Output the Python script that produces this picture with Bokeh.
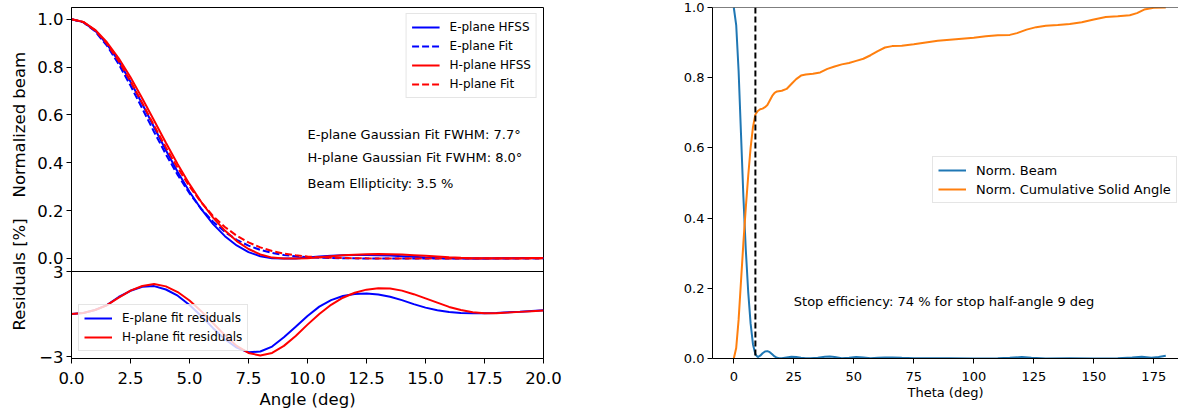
from bokeh.plotting import figure
from bokeh.models import (Range1d, FixedTicker, Span, Label, Legend, LegendItem,
                          NumeralTickFormatter)
from bokeh.layouts import row
from bokeh.embed import file_html
from bokeh.resources import INLINE
import math

# ---------------- data: left panel ----------------
angle = [0.0, 0.5, 1.0, 1.5, 2.0, 2.5, 3.0, 3.5, 4.0, 4.5, 5.0, 5.5, 6.0, 6.5, 7.0, 7.5,
         8.0, 8.5, 9.0, 9.5, 10.0, 10.5, 11.0, 11.5, 12.0, 12.5, 13.0, 13.5, 14.0, 14.5,
         15.0, 15.5, 16.0, 16.5, 17.0, 17.5, 18.0, 18.5, 19.0, 19.5, 20.0]
e_hfss = [1.0, .9878, .9521, .8959, .8242, .7389, .6455, .5486, .4525, .3618, .2788, .2060,
          .1438, .0933, .0545, .0267, .0094, .0010, .0005, .0005, .0041, .0084, .0117, .0137,
          .0147, .0148, .0140, .0123, .0098, .0070, .0045, .0026, .0014, .0007, .0005, .0005,
          .0007, .0012, .0016, .0021, .0026]
e_fit = [1.0, .9871, .9493, .8896, .8122, .7225, .6263, .5289, .4352, .3489, .2725, .2074,
         .1538, .1111, .0782, .0537, .0359, .0234, .0148, .0092, .0055, .0032, .0019, .0010,
         .0006, .0003, .0002, .0001, 0.0, 0.0, 0.0, 0.0, 0.0, 0.0, 0.0, 0.0,
         0.0, 0.0, 0.0, 0.0, 0.0]
h_hfss = [1.0, .9888, .9559, .9038, .8368, .7573, .6690, .5766, .4834, .3938, .3107, .2361,
          .1711, .1166, .0727, .0397, .0170, .0037, .0005, .0005, .0007, .0050, .0095, .0133,
          .0160, .0178, .0185, .0182, .0166, .0140, .0110, .0080, .0050, .0028, .0012, .0006,
          .0006, .0010, .0015, .0020, .0025]
h_fit = [1.0, .9881, .9531, .8976, .8253, .7408, .6492, .5554, .4639, .3783, .3012, .2341,
         .1776, .1316, .0952, .0672, .0463, .0312, .0205, .0131, .0082, .0050, .0030, .0018,
         .0010, .0006, .0003, .0002, .0001, 0.0, 0.0, 0.0, 0.0, 0.0, 0.0, 0.0,
         0.0, 0.0, 0.0, 0.0, 0.0]
e_res = [0.0, .07, .28, .63, 1.2, 1.64, 1.92, 1.97, 1.73, 1.29, .63, -.14, -1.0, -1.78, -2.37,
         -2.70, -2.65, -2.30, -1.64, -.90, -.14, .52, .98, 1.27, 1.41, 1.45, 1.38, 1.22, .98,
         .70, .45, .26, .14, .07, .05, .05, .07, .12, .16, .21, .26]
h_res = [0.0, .07, .28, .62, 1.15, 1.65, 1.98, 2.12, 1.95, 1.55, .95, .20, -.65, -1.5, -2.25,
         -2.75, -2.93, -2.75, -2.25, -1.55, -.75, 0.0, .65, 1.15, 1.5, 1.72, 1.82, 1.8, 1.65,
         1.4, 1.1, .8, .5, .28, .12, .06, .06, .1, .15, .2, .25]

beam_ticks = [0.0, 0.2, 0.4, 0.6, 0.8, 1.0]
beam_tick_labels = ["0.0", "0.2", "0.4", "0.6", "0.8", "1.0"]
res_ticks = [-3.0, 3.0]
res_tick_labels = ["\u22123", "3"]
angle_ticks = [0.0, 2.5, 5.0, 7.5, 10.0, 12.5, 15.0, 17.5, 20.0]

beam_labels = ["E-plane HFSS", "E-plane Fit", "H-plane HFSS", "H-plane Fit"]
res_labels = ["E-plane fit residuals", "H-plane fit residuals"]
info_texts = ["E-plane Gaussian Fit FWHM: 7.7\u00b0", "H-plane Gaussian Fit FWHM: 8.0\u00b0",
              "Beam Ellipticity: 3.5 %"]
info_y = [0.518, 0.423, 0.315]
ylabel_top = "Normalized beam"
ylabel_bottom = "Residuals [%]"

# ---------------- data: right panel ----------------
theta_beam = [0, 1, 2, 3, 4, 5, 6, 7, 8, 9, 10, 11, 12, 13, 14, 15, 16, 17, 18, 19, 20,
              22, 24, 26, 28, 30, 32, 35, 38, 40, 42, 45, 48, 51, 54, 57, 60, 63, 66,
              70, 75, 80, 90, 100, 110, 115, 120, 124, 130, 140, 150, 160, 166, 170, 174, 177, 180]
norm_beam = [1.0, .95, .82, .64, .46, .31, .19, .10, .04, .012, .004, .008, .015, .020, .021,
             .018, .012, .006, .002, .001, .001,
             .003, .005, .004, .002, .001, .001, .002, .005, .006, .004, .001, .002,
             .004, .003, .001, .002, .003, .003, .002, .001, .001, .001, 0.0, .001,
             .002, .004, .002, 0.0, .001, 0.0, .001, .003, .005, .002, .004, .008]
theta_cum = [0, 1, 2, 3, 4, 5, 6, 7, 8, 9, 10, 11, 12, 13, 14, 15, 16, 17, 18,
             20, 22, 24, 26, 28, 30, 33, 36, 39, 42, 45, 48, 51, 54, 57, 60, 63, 66,
             70, 75, 80, 85, 90, 95, 100, 105, 110, 115, 118, 122, 126, 130, 135, 140,
             145, 150, 155, 160, 165, 168, 171, 175, 180]
norm_cum = [0.0, .03, .11, .22, .33, .43, .52, .60, .66, .695, .705, .71, .712, .716, .722,
            .735, .748, .757, .761,
            .763, .768, .782, .796, .806, .809, .811, .815, .825, .832, .838, .842,
            .848, .854, .864, .876, .886, .89, .891, .895, .9, .905, .908, .911,
            .914, .918, .921, .922, .927, .937, .944, .948, .95, .953, .958, .966,
            .973, .975, .978, .984, .994, .999, 1.0]
theta_ticks = [0, 25, 50, 75, 100, 125, 150, 175]
cum_ticks = [0.0, 0.2, 0.4, 0.6, 0.8, 1.0]
right_labels = ["Norm. Beam", "Norm. Cumulative Solid Angle"]
stop_angle = 9
stop_text = "Stop efficiency: 74 % for stop half-angle 9 deg"

FONT = "DejaVu Sans"
BIG = "16.5px"
MED = "13px"
BLUE, RED = "#0000ff", "#ff0000"
C0, C1 = "#1f77b4", "#ff7f0e"
H = 415


def style_axis(ax, size, tick_standoff, label_standoff):
    ax.major_tick_out = 5
    ax.major_tick_in = 0
    ax.minor_tick_line_color = None
    ax.major_tick_line_color = "black"
    ax.axis_line_color = "black"
    ax.major_label_text_font = FONT
    ax.major_label_text_font_size = size
    ax.major_label_text_color = "black"
    ax.major_label_standoff = tick_standoff
    ax.axis_label_text_font = FONT
    ax.axis_label_text_font_size = size
    ax.axis_label_text_font_style = "normal"
    ax.axis_label_text_color = "black"
    ax.axis_label_standoff = label_standoff


def style_legend(leg, size):
    leg.label_text_font = FONT
    leg.label_text_font_size = size
    leg.label_text_color = "black"
    leg.glyph_width = 28
    leg.glyph_height = 16
    leg.label_height = 16
    leg.label_standoff = 10
    leg.spacing = 3
    leg.padding = 5
    leg.border_line_color = "#cccccc"
    leg.border_line_width = 1
    leg.background_fill_color = "white"
    leg.background_fill_alpha = 0.8


# ---------------- narrow strip carrying the two vertical y labels ----------------
pl = figure(width=30, height=H, x_range=Range1d(0, 30), y_range=Range1d(0, H),
            output_backend="svg", toolbar_location=None, min_border=0)
pl.axis.visible = False
pl.grid.visible = False
pl.outline_line_color = None
pl.add_layout(Label(x=18.5, y=H - 138.5, text=ylabel_top, angle=math.pi / 2,
                    text_font=FONT, text_font_size=BIG, text_align="center",
                    text_baseline="middle", text_color="black"))
pl.add_layout(Label(x=18.5, y=H - 315.5, text=ylabel_bottom, angle=math.pi / 2,
                    text_font=FONT, text_font_size=BIG, text_align="center",
                    text_baseline="middle", text_color="black"))

# ---------------- left panel (beam + residuals stacked in one frame) ----------------
B0, B1 = -0.4179, 1.0489
R0, R1 = -3.141, 21.635


def r2b(r):
    return B0 + (r - R0) / (R1 - R0) * (B1 - B0)


p1 = figure(width=610, height=H, x_range=Range1d(0, 20), y_range=Range1d(B0, B1),
            output_backend="svg", toolbar_location=None,
            min_border_left=41, min_border_right=97, min_border_top=7, min_border_bottom=57)
p1.extra_y_ranges = {"res": Range1d(R0, R1)}
p1.xgrid.visible = False
p1.ygrid.visible = False
p1.outline_line_color = "black"

ytick_vals = [r2b(v) for v in res_ticks] + beam_ticks
overrides = {}
for v, t in zip(ytick_vals, res_tick_labels + beam_tick_labels):
    overrides[v] = t
p1.yaxis.ticker = FixedTicker(ticks=ytick_vals)
p1.yaxis.major_label_overrides = overrides
p1.xaxis.ticker = FixedTicker(ticks=angle_ticks)
p1.xaxis.formatter = NumeralTickFormatter(format="0.0")
p1.xaxis.axis_label = "Angle (deg)"
style_axis(p1.xaxis[0], BIG, 8, 3)
style_axis(p1.yaxis[0], BIG, 3, 3)

rb1 = p1.line(angle, e_hfss, line_color=BLUE, line_width=2)
rb2 = p1.line(angle, e_fit, line_color=BLUE, line_width=2, line_dash="7 3")
rb3 = p1.line(angle, h_hfss, line_color=RED, line_width=2)
rb4 = p1.line(angle, h_fit, line_color=RED, line_width=2, line_dash="7 3")
rr1 = p1.line(angle, e_res, line_color=BLUE, line_width=2, y_range_name="res")
rr2 = p1.line(angle, h_res, line_color=RED, line_width=2, y_range_name="res")

p1.add_layout(Span(location=r2b(3.0), dimension="width", line_color="black", line_width=1))

for txt, yy in zip(info_texts, info_y):
    p1.add_layout(Label(x=10.0, y=yy, text=txt, text_font=FONT, text_font_size=MED,
                        text_baseline="middle", text_align="left", text_color="black"))

leg1 = Legend(items=[LegendItem(label=l, renderers=[r]) for l, r in
                     zip(beam_labels, [rb1, rb2, rb3, rb4])],
              location="top_right", margin=6)
style_legend(leg1, "12px")
p1.add_layout(leg1)

leg2 = Legend(items=[LegendItem(label=l, renderers=[r]) for l, r in
                     zip(res_labels, [rr1, rr2])],
              location=(7, 7), margin=0)
style_legend(leg2, "12px")
p1.add_layout(leg2)

# ---------------- right panel ----------------
p2 = figure(width=538, height=H, x_range=Range1d(-8.875, 185.3), y_range=Range1d(0, 1),
            output_backend="svg", toolbar_location=None,
            min_border_left=72, min_border_right=0, min_border_top=7, min_border_bottom=57)
p2.xgrid.visible = False
p2.ygrid.visible = False
p2.outline_line_color = None
p2.xaxis.ticker = FixedTicker(ticks=theta_ticks)
p2.yaxis.ticker = FixedTicker(ticks=cum_ticks)
p2.yaxis.formatter = NumeralTickFormatter(format="0.0")
p2.xaxis.axis_label = "Theta (deg)"
style_axis(p2.xaxis[0], MED, 8, 1)
style_axis(p2.yaxis[0], MED, 3, 3)

p2.add_layout(Span(location=1.0, dimension="width", line_color="black", line_width=1))
r21 = p2.line(theta_beam, norm_beam, line_color=C0, line_width=2)
r22 = p2.line(theta_cum, norm_cum, line_color=C1, line_width=2)
p2.add_layout(Span(location=stop_angle, dimension="height", line_color="black",
                   line_width=2, line_dash="6 3"))
p2.add_layout(Label(x=25, y=0.161, text=stop_text, text_font=FONT, text_font_size=MED,
                    text_baseline="middle", text_align="left", text_color="black"))

leg3 = Legend(items=[LegendItem(label=l, renderers=[r]) for l, r in
                     zip(right_labels, [r21, r22])],
              location=(220, 155), margin=0)
style_legend(leg3, MED)
p2.add_layout(leg3)

layout = row(pl, p1, p2)
open("out.html", "w").write(file_html(layout, INLINE))
